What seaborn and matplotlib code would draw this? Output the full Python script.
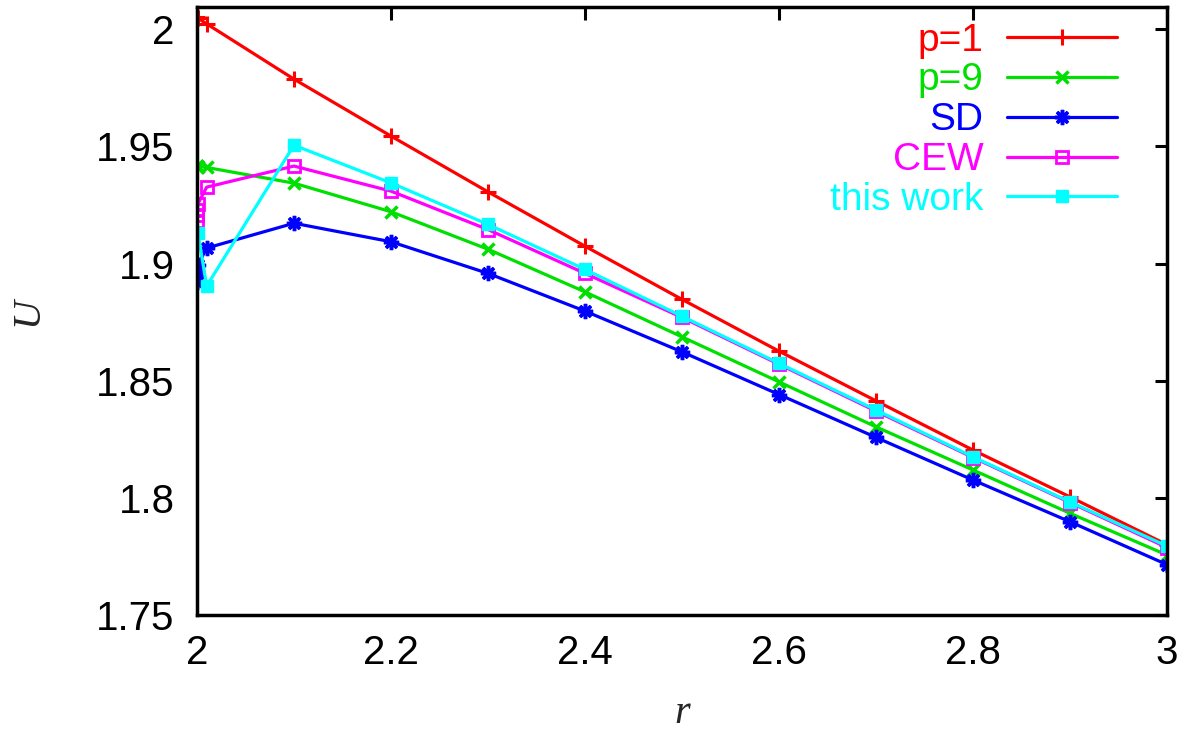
import numpy as np
import pandas as pd
import matplotlib
matplotlib.use("Agg")
import matplotlib.pyplot as plt
import seaborn as sns

# ---- data ----
r_near = [2.0001, 2.0002, 2.0005, 2.001]
r_main = [2.01, 2.1, 2.2, 2.3, 2.4, 2.5, 2.6, 2.7, 2.8, 2.9, 3.0]

p1_near = [2.0051, 2.0050, 2.0049, 2.0047]
p1_main = [2.0023, 1.9787, 1.9544, 1.9306, 1.9074, 1.8847, 1.8626, 1.8414, 1.8204, 1.8004, 1.7800]

p9_near = [1.9415, 1.9415, 1.9415, 1.9414]
p9_main = [1.9410, 1.9343, 1.9221, 1.9061, 1.8879, 1.8687, 1.8495, 1.8303, 1.8119, 1.7934, 1.7756]

sd_near = [1.8920, 1.8945, 1.8970, 1.8995]
sd_main = [1.9066, 1.9172, 1.9093, 1.8958, 1.8797, 1.8623, 1.8441, 1.8258, 1.8076, 1.7898, 1.7715]

cew_near = [1.9180, 1.9205, 1.9230, 1.9255]
cew_main = [1.9326, 1.9416, 1.9309, 1.9145, 1.8958, 1.8770, 1.8570, 1.8370, 1.8172, 1.7980, 1.7788]

tw_near = [1.9130]
tw_main = [1.8904, 1.9505, 1.9344, 1.9167, 1.8975, 1.8775, 1.8574, 1.8375, 1.8175, 1.7983, 1.7794]

labels = ["p=1", "p=9", "SD", "CEW", "this work"]
colors = ["#ff0000", "#00e000", "#0000ff", "#ff00ff", "#00ffff"]

xticks = [2.0, 2.2, 2.4, 2.6, 2.8, 3.0]
xticklabels = ["2", "2.2", "2.4", "2.6", "2.8", "3"]
yticks = [1.75, 1.80, 1.85, 1.90, 1.95, 2.00]
yticklabels = ["1.75", "1.8", "1.85", "1.9", "1.95", "2"]

series = [
    (r_near + r_main, p1_near + p1_main),
    (r_near + r_main, p9_near + p9_main),
    (r_near + r_main, sd_near + sd_main),
    (r_near + r_main, cew_near + cew_main),
    ([r_near[-1]] + r_main, tw_near + tw_main),
]

sns.set_style("white")
plt.rcParams["font.family"] = ["Liberation Sans", "DejaVu Sans"]

fig = plt.figure(figsize=(11.88, 7.33), dpi=100)
ax = fig.add_axes([0.1658, 0.161, 0.8165, 0.8295])

marker_styles = [
    dict(marker="+", markersize=11, markeredgewidth=2.2, markerfacecolor="none"),
    dict(marker="x", markersize=9, markeredgewidth=2.5, markerfacecolor="none"),
    dict(marker=(8, 2, 0), markersize=11, markeredgewidth=2.5, markerfacecolor="none"),
    dict(marker="s", markersize=9, markeredgewidth=2.0, markerfacecolor="none"),
    dict(marker="s", markersize=9, markeredgewidth=1.0, markerfacecolor=None),
]

for (xs, ys), lab, col, ms in zip(series, labels, colors, marker_styles):
    df = pd.DataFrame({"r": xs, "U": ys})
    kw = dict(ms)
    if kw["markerfacecolor"] is None:
        kw["markerfacecolor"] = col
    sns.lineplot(data=df, x="r", y="U", ax=ax, color=col, label=lab,
                 estimator=None, sort=False, linewidth=2.3,
                 markeredgecolor=col, **kw)

ax.set_xlim(2.0, 3.0)
ax.set_ylim(1.75, 2.0095)
ax.set_xticks(xticks)
ax.set_xticklabels(xticklabels)
ax.set_yticks(yticks)
ax.set_yticklabels(yticklabels)
ax.tick_params(axis="both", which="major", direction="in", length=9, width=2.2,
               labelsize=29, top=True, right=True, colors="black")
ax.tick_params(axis="y", pad=16)
ax.tick_params(axis="x", pad=14)
for sp in ax.spines.values():
    sp.set_linewidth(2.5)
    sp.set_color("black")

ax.set_xlabel("r", fontsize=29, family=["Liberation Serif"], style="italic", labelpad=16)
ax.set_ylabel("U", fontsize=29, family=["Liberation Serif"], style="italic", labelpad=36)

leg = ax.legend(loc="upper right", frameon=False, markerfirst=False, fontsize=28,
                labelcolor="linecolor", handlelength=2.85, handletextpad=0.6,
                labelspacing=0.1, borderaxespad=0.0, bbox_to_anchor=(0.965, 1.0))

fig.savefig("out.png", dpi=100)
